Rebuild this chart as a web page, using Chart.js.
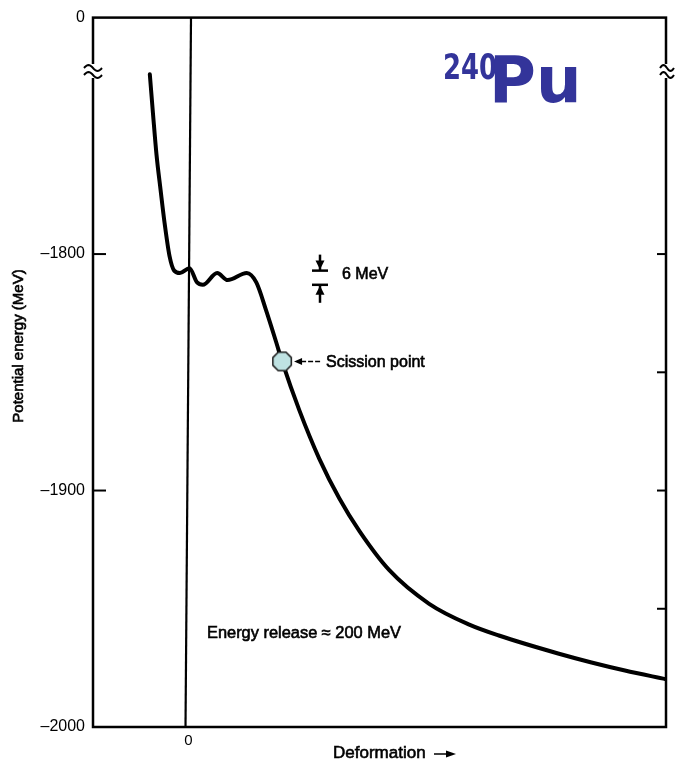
<!DOCTYPE html>
<html>
<head>
<meta charset="utf-8">
<script src="https://cdn.jsdelivr.net/npm/chart.js@4.4.1/dist/chart.umd.min.js"></script>
<style>
body { margin: 0; background: #fff; }
</style>
</head>
<body>
<canvas id="myChart" width="677" height="760"></canvas>
<script>
// potential energy curve of 240Pu
var deformation = [-0.405, -0.371, -0.335, -0.292, -0.25, -0.198, -0.15, -0.09, 0.01, 0.09, 0.15, 0.30, 0.41, 0.61,
    0.71, 0.81, 0.92, 0.98, 1.16, 1.37, 1.58, 1.79, 2.10, 2.52, 2.94, 3.25, 3.87, 4.22, 4.57, 5.00];
var energy = [-1724, -1741, -1758, -1773, -1787, -1801, -1807, -1808, -1806, -1812, -1813, -1808, -1811, -1808,
    -1812, -1823.5, -1837.5, -1845.4, -1866, -1886.6, -1903.4, -1917.2, -1933.6, -1947.9, -1956.7, -1961.3, -1968.9, -1972.7, -1976.1, -1979.8];

var scissionX = [0.98];
var scissionY = [-1845.4];

var yTicks = [-2000, -1900, -1800, -1700];
var yTickLabels = ['\u20132000', '\u20131900', '\u20131800', '0'];
var xTicks = [0];
var xTickLabels = ['0'];

var FONT = '"Liberation Sans", Arial, Helvetica, sans-serif';

function octagon(r) {
    var c = document.createElement('canvas');
    var s = 2 * r + 4;
    c.width = s; c.height = s;
    var g = c.getContext('2d');
    g.beginPath();
    for (var i = 0; i < 8; i++) {
        var a = Math.PI / 8 + i * Math.PI / 4;
        var px = s / 2 + r * Math.cos(a), py = s / 2 + r * Math.sin(a);
        if (i) g.lineTo(px, py); else g.moveTo(px, py);
    }
    g.closePath();
    g.fillStyle = '#bfe2e2';
    g.fill();
    g.lineWidth = 1.5;
    g.strokeStyle = '#1a1a1a';
    g.stroke();
    return c;
}

function txt(ctx, s, x, y, size, align) {
    ctx.font = size + 'px ' + FONT;
    ctx.textAlign = align || 'left';
    ctx.textBaseline = 'middle';
    ctx.fillStyle = '#000';
    ctx.strokeStyle = '#000';
    ctx.lineWidth = 0.6;
    ctx.fillText(s, x, y);
    ctx.strokeText(s, x, y);
}

function breakMark(ctx, x, y, w) {
    ctx.fillStyle = '#fff';
    ctx.fillRect(x - 4, y - 7, 8, 14);
    ctx.strokeStyle = '#000';
    ctx.lineWidth = 2;
    [y - 3, y + 4].forEach(function (yy) {
        ctx.beginPath();
        for (var i = 0; i <= 20; i++) {
            var px = x - w / 2 + w * i / 20;
            var py = yy - 3 * Math.sin(i / 20 * Math.PI * 2);
            if (i) ctx.lineTo(px, py); else ctx.moveTo(px, py);
        }
        ctx.stroke();
    });
}

var framePlugin = {
    id: 'frame',
    beforeDatasetsDraw: function (chart) {
        var ctx = chart.ctx, a = chart.chartArea;
        var xs = chart.scales.x;
        ctx.save();
        // zero deformation line
        ctx.strokeStyle = '#000';
        ctx.lineWidth = 2.2;
        ctx.beginPath();
        ctx.moveTo(xs.getPixelForValue(0) + 2.5, a.top);
        ctx.lineTo(xs.getPixelForValue(0) - 3, a.bottom);
        ctx.stroke();
        ctx.restore();
    },
    afterDraw: function (chart) {
        var ctx = chart.ctx, a = chart.chartArea;
        var xs = chart.scales.x, ys = chart.scales.y;
        ctx.save();
        // box
        ctx.strokeStyle = '#000';
        ctx.lineWidth = 2.5;
        ctx.strokeRect(a.left, a.top, a.right - a.left, a.bottom - a.top);
        // inward ticks
        ctx.lineWidth = 2;
        [-1800, -1900].forEach(function (v) {
            var y = ys.getPixelForValue(v);
            ctx.beginPath(); ctx.moveTo(a.left, y); ctx.lineTo(a.left + 13, y); ctx.stroke();
        });
        [-1800, -1850, -1900, -1950].forEach(function (v) {
            var y = ys.getPixelForValue(v);
            ctx.beginPath(); ctx.moveTo(a.right, y); ctx.lineTo(a.right - 9, y); ctx.stroke();
        });
        // axis breaks
        breakMark(ctx, a.left, 71, 18);
        breakMark(ctx, a.right + 1, 71, 14);

        // y title
        ctx.save();
        ctx.translate(19, 346);
        ctx.rotate(-Math.PI / 2);
        txt(ctx, 'Potential energy (MeV)', 0, 0, 15, 'center');
        ctx.restore();

        // x title with arrow
        txt(ctx, 'Deformation', 333, 753, 17, 'left');
        ctx.lineWidth = 1.5;
        ctx.beginPath(); ctx.moveTo(434, 754); ctx.lineTo(450, 754); ctx.stroke();
        ctx.fillStyle = '#000';
        ctx.beginPath(); ctx.moveTo(456, 754); ctx.lineTo(446, 750.5); ctx.lineTo(446, 757.5); ctx.closePath(); ctx.fill();

        // 6 MeV marker
        var b1 = ys.getPixelForValue(-1807), b2 = ys.getPixelForValue(-1813);
        var ax = 320;
        ctx.lineWidth = 2.5;
        ctx.beginPath(); ctx.moveTo(312, b1); ctx.lineTo(328, b1); ctx.stroke();
        ctx.beginPath(); ctx.moveTo(312, b2); ctx.lineTo(328, b2); ctx.stroke();
        ctx.beginPath(); ctx.moveTo(ax, b1 - 16); ctx.lineTo(ax, b1); ctx.stroke();
        ctx.beginPath(); ctx.moveTo(ax, b2); ctx.lineTo(ax, b2 + 18); ctx.stroke();
        ctx.beginPath(); ctx.moveTo(ax, b1 - 1); ctx.lineTo(ax - 4.5, b1 - 10); ctx.lineTo(ax + 4.5, b1 - 10); ctx.closePath(); ctx.fill();
        ctx.beginPath(); ctx.moveTo(ax, b2 + 1); ctx.lineTo(ax - 4.5, b2 + 10); ctx.lineTo(ax + 4.5, b2 + 10); ctx.closePath(); ctx.fill();
        txt(ctx, '6 MeV', 342, 275, 16, 'left');

        // scission point label
        var sx = xs.getPixelForValue(scissionX[0]), sy = ys.getPixelForValue(scissionY[0]);
        ctx.beginPath(); ctx.moveTo(sx + 12, sy); ctx.lineTo(sx + 20, sy - 3.5); ctx.lineTo(sx + 20, sy + 3.5); ctx.closePath(); ctx.fill();
        ctx.lineWidth = 1.5;
        ctx.setLineDash([5, 2]);
        ctx.beginPath(); ctx.moveTo(sx + 19, sy); ctx.lineTo(sx + 39, sy); ctx.stroke();
        ctx.setLineDash([]);
        txt(ctx, 'Scission point', sx + 44, sy + 1, 16, 'left');

        // energy release
        txt(ctx, 'Energy release \u2248 200 MeV', 207, 633, 16.4, 'left');

        // nucleus label
        ctx.fillStyle = '#33349a';
        ctx.textBaseline = 'alphabetic';
        ctx.textAlign = 'left';
        ctx.save();
        ctx.translate(443, 79);
        ctx.scale(0.72, 1);
        ctx.font = 'bold 36px "DejaVu Sans", sans-serif';
        ctx.fillText('240', 0, 0);
        ctx.restore();
        ctx.font = 'bold 64px "DejaVu Sans", sans-serif';
        ctx.fillText('Pu', 489, 102);
        ctx.restore();
    }
};

var curve = deformation.map(function (d, i) { return { x: d, y: energy[i] }; });
var scission = scissionX.map(function (d, i) { return { x: d, y: scissionY[i] }; });

var data = {
    datasets: [{
        label: 'Scission point',
        data: scission,
        pointStyle: octagon(10),
        pointRadius: 10,
        order: 0
    }, {
        label: 'Potential energy',
        data: curve,
        showLine: true,
        borderColor: '#000',
        borderWidth: 4,
        pointRadius: 0,
        cubicInterpolationMode: 'monotone',
        borderCapStyle: 'round',
        borderJoinStyle: 'round',
        order: 1
    }]
};

var config = {
    type: 'scatter',
    data: data,
    options: {
        responsive: false,
        animation: false,
        devicePixelRatio: 1,
        layout: { padding: { top: 12, right: 9, left: 0, bottom: 0 } },
        plugins: { legend: { display: false }, tooltip: { enabled: false } },
        scales: {
            x: {
                type: 'linear',
                min: -1,
                max: 5,
                grid: { display: false, drawTicks: false },
                border: { display: false },
                afterBuildTicks: function (scale) {
                    scale.ticks = xTicks.map(function (v) { return { value: v }; });
                },
                afterFit: function (scale) { scale.height = 33; },
                ticks: {
                    padding: 5,
                    color: '#000',
                    font: { family: FONT, size: 15 },
                    callback: function (v) { return xTickLabels[xTicks.indexOf(v)]; }
                }
            },
            y: {
                type: 'linear',
                min: -2000,
                max: -1700,
                grid: { display: false, drawTicks: false },
                border: { display: false },
                afterBuildTicks: function (scale) {
                    scale.ticks = yTicks.map(function (v) { return { value: v }; });
                },
                afterFit: function (scale) { scale.width = 93; },
                ticks: {
                    padding: 8,
                    color: '#000',
                    font: { family: FONT, size: 16 },
                    callback: function (v) { return yTickLabels[yTicks.indexOf(v)]; }
                }
            }
        }
    },
    plugins: [framePlugin]
};

var myChart = new Chart(document.getElementById('myChart'), config);
</script>
</body>
</html>
